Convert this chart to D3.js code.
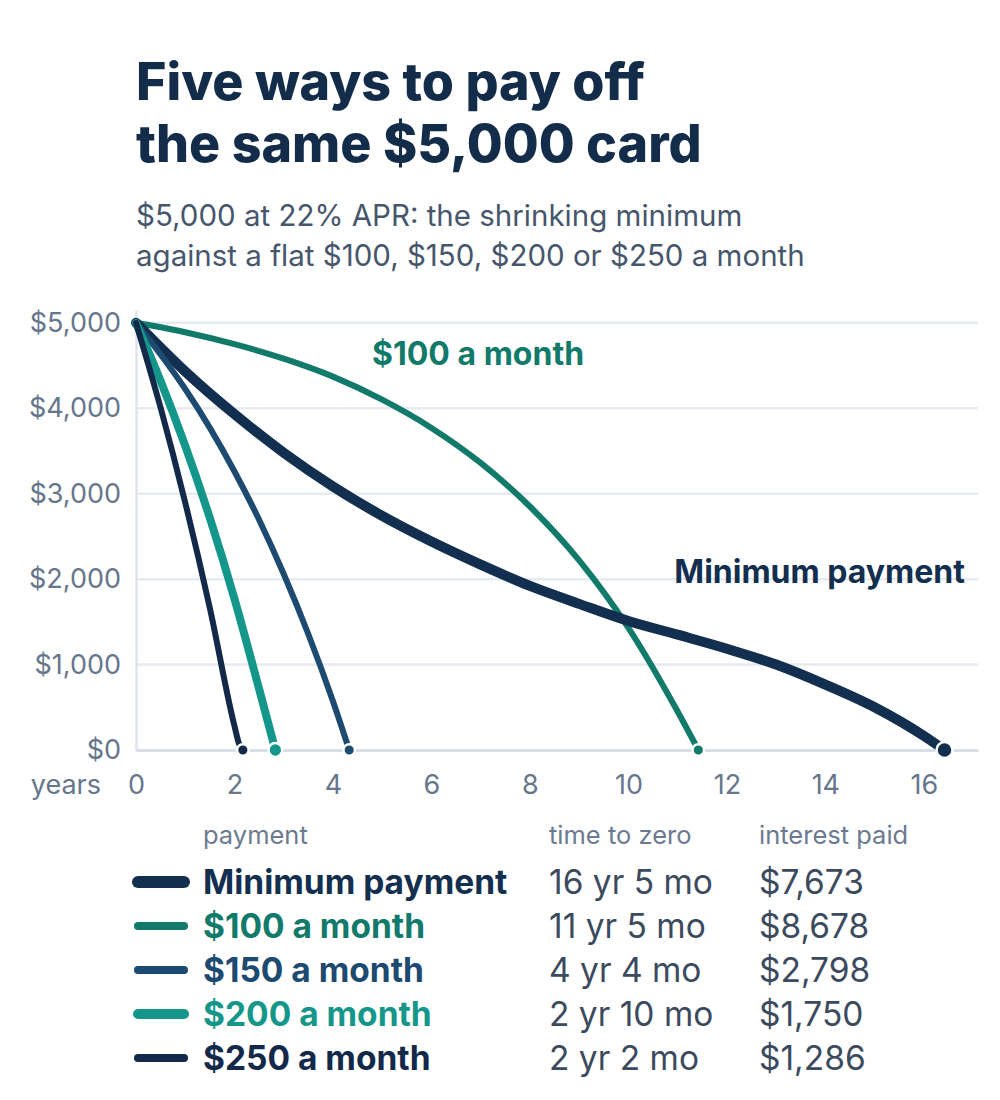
<!DOCTYPE html>
<html>
<head>
<meta charset="utf-8">
<script src="https://cdn.jsdelivr.net/npm/d3@7"></script>
<style>
  body { margin: 0; background: #ffffff; }
  svg { display: block; font-family: Inter, "Noto Sans", sans-serif; }
</style>
</head>
<body>
<div id="chart"></div>
<script>
// balance over time, [years, dollars]
const minPayment = [[0, 5000], [1, 4430], [2, 3930], [3, 3480], [4, 3085], [5, 2740], [6, 2440], [7, 2170],
  [8, 1920], [9, 1710], [10, 1510], [11, 1350], [12, 1185], [13, 1000], [14, 765], [15, 500], [16, 165], [16.42, 0]];
const pay100 = [[0, 5000], [1, 4890], [2, 4750], [3, 4580], [4, 4370], [5, 4100], [6, 3770], [7, 3360],
  [8, 2850], [9, 2220], [10, 1430], [11, 450], [11.42, 0]];
const pay150 = [[0, 5000], [0.5, 4630], [1, 4225], [1.5, 3770], [2, 3260], [2.5, 2695], [3, 2060], [3.5, 1355], [4, 570], [4.33, 0]];
const pay200 = [[0, 5000], [0.5, 4320], [1, 3560], [1.5, 2715], [2, 1770], [2.5, 715], [2.83, 0]];
const pay250 = [[0, 5000], [0.5, 4005], [1, 2895], [1.5, 1660], [2, 280], [2.1, 60], [2.17, 0]];

const seriesNames = ['Minimum payment', '$100 a month', '$150 a month', '$200 a month', '$250 a month'];
const timeToZero = ['16 yr 5 mo', '11 yr 5 mo', '4 yr 4 mo', '2 yr 10 mo', '2 yr 2 mo'];
const interestPaid = ['$7,673', '$8,678', '$2,798', '$1,750', '$1,286'];

const yTicks = [0, 1000, 2000, 3000, 4000, 5000];
const xTicks = [0, 2, 4, 6, 8, 10, 12, 14, 16];

const colors = ['#132f4f', '#127a6b', '#1d4a70', '#14978a', '#13294a'];
const lineWidths = [10, 6, 6, 8, 6];
const seriesData = [minPayment, pay100, pay150, pay200, pay250];

const width = 1000;
const height = 1100;

const svg = d3.select('#chart')
  .append('svg')
  .attr('width', width)
  .attr('height', height);

// Title + subtitle
const title = svg.append('text')
  .attr('x', 136)
  .attr('y', 100)
  .style('font-size', '52px')
  .style('font-weight', 800)
  .style('fill', '#132c4a');
title.append('tspan').attr('x', 136).text('Five ways to pay off');
title.append('tspan').attr('x', 136).attr('dy', 62).text('the same $5,000 card');

const sub = svg.append('text')
  .attr('x', 136)
  .attr('y', 226)
  .style('font-size', '29.5px')
  .style('fill', '#46566c');
sub.append('tspan').attr('x', 136).text('$5,000 at 22% APR: the shrinking minimum');
sub.append('tspan').attr('x', 136).attr('dy', 40).text('against a flat $100, $150, $200 or $250 a month');

// Scales
const x = d3.scaleLinear().domain([0, 17.1]).range([136, 978]);
const y = d3.scaleLinear().domain([0, 5150]).range([750, 310]);

// Gridlines
svg.append('g')
  .selectAll('line')
  .data(yTicks.filter(d => d > 0))
  .enter()
  .append('line')
  .attr('x1', x(0))
  .attr('x2', x(17.1))
  .attr('y1', d => y(d))
  .attr('y2', d => y(d))
  .style('stroke', '#e6ebf2')
  .style('stroke-width', 2.5);

// Axes
const yAxis = svg.append('g')
  .attr('transform', `translate(${x(0)},0)`)
  .call(d3.axisLeft(y).tickValues(yTicks).tickSize(0).tickPadding(15)
    .tickFormat(d => '$' + d3.format(',')(d)));
yAxis.select('.domain').style('stroke', '#dde4ed').style('stroke-width', 2.5);
yAxis.selectAll('text')
  .style('font-size', '27px')
  .style('font-family', 'Inter, sans-serif')
  .style('fill', '#66768c');

const xAxis = svg.append('g')
  .attr('transform', `translate(0,${y(0)})`)
  .call(d3.axisBottom(x).tickValues(xTicks).tickSize(0).tickPadding(24));
xAxis.select('.domain').style('stroke', '#d7dee8').style('stroke-width', 3);
xAxis.selectAll('text')
  .attr('dy', 0)
  .style('font-size', '27px')
  .style('font-family', 'Inter, sans-serif')
  .style('fill', '#66768c');
xAxis.selectAll('text').attr('y', 44);

svg.append('text')
  .attr('x', 101)
  .attr('y', y(0) + 44)
  .attr('text-anchor', 'end')
  .style('font-size', '27px')
  .style('fill', '#66768c')
  .text('years');

// Lines
const line = d3.line()
  .x(d => x(d[0]))
  .y(d => y(d[1]))
  .curve(d3.curveMonotoneX);

const drawOrder = [1, 0, 2, 3, 4];
const series = svg.append('g');
drawOrder.forEach(i => {
  series.append('path')
    .datum(seriesData[i])
    .attr('d', line)
    .style('fill', 'none')
    .style('stroke', colors[i])
    .style('stroke-width', lineWidths[i])
    .style('stroke-linecap', 'round')
    .style('stroke-linejoin', 'round');
});

// Payoff dots
drawOrder.forEach(i => {
  const last = seriesData[i][seriesData[i].length - 1];
  series.append('circle')
    .attr('cx', x(last[0]))
    .attr('cy', y(last[1]))
    .attr('r', lineWidths[i] * 0.55 + 2.5)
    .style('fill', colors[i])
    .style('stroke', '#ffffff')
    .style('stroke-width', 2.5);
});

// Direct labels
svg.append('text')
  .attr('x', 372)
  .attr('y', 365)
  .style('font-size', '32px')
  .style('font-weight', 700)
  .style('fill', colors[1])
  .text('$100 a month');

svg.append('text')
  .attr('x', 965)
  .attr('y', 583)
  .attr('text-anchor', 'end')
  .style('font-size', '32px')
  .style('font-weight', 700)
  .style('fill', colors[0])
  .text('Minimum payment');

// Legend table
const legend = svg.append('g');
const headers = [['payment', 203], ['time to zero', 549], ['interest paid', 759]];
legend.selectAll('.hdr')
  .data(headers)
  .enter()
  .append('text')
  .attr('x', d => d[1])
  .attr('y', 844)
  .style('font-size', '25.5px')
  .style('fill', '#6b7a90')
  .text(d => d[0]);

const rowY = d3.scaleLinear().domain([0, 4]).range([882, 1058]);
seriesNames.forEach((name, i) => {
  legend.append('line')
    .attr('x1', 138)
    .attr('x2', 184)
    .attr('y1', rowY(i))
    .attr('y2', rowY(i))
    .style('stroke', colors[i])
    .style('stroke-width', lineWidths[i] + 2)
    .style('stroke-linecap', 'round');
  legend.append('text')
    .attr('x', 203)
    .attr('y', rowY(i) + 12)
    .style('font-size', '33.5px')
    .style('font-weight', 700)
    .style('fill', colors[i])
    .text(name);
  legend.append('text')
    .attr('x', 549)
    .attr('y', rowY(i) + 12)
    .style('font-size', '33.5px')
    .style('fill', '#3c4a5e')
    .text(timeToZero[i]);
  legend.append('text')
    .attr('x', 759)
    .attr('y', rowY(i) + 12)
    .style('font-size', '33.5px')
    .style('fill', '#3c4a5e')
    .text(interestPaid[i]);
});
</script>
</body>
</html>
